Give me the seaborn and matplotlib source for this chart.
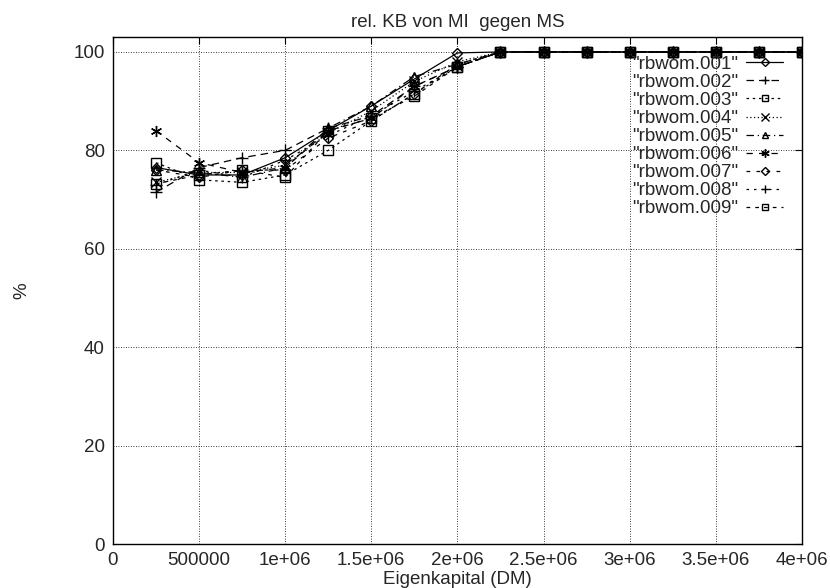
import numpy as np
import pandas as pd
import seaborn as sns
import matplotlib
matplotlib.use("Agg")
import matplotlib.pyplot as plt

x_vals = [250000, 500000, 750000, 1000000, 1250000, 1500000, 1750000, 2000000,
          2250000, 2500000, 2750000, 3000000, 3250000, 3500000, 3750000, 4000000]
tail = [100.0] * 8

rbwom_001 = [76.5, 75.0, 75.0, 78.5, 84.0, 89.0, 94.5, 99.8] + tail
rbwom_002 = [71.5, 76.5, 78.5, 80.0, 84.5, 87.0, 93.0, 97.0] + tail
rbwom_003 = [77.5, 74.0, 73.5, 75.0, 80.0, 86.0, 91.5, 97.0] + tail
rbwom_004 = [73.5, 75.5, 75.5, 77.0, 83.5, 88.0, 94.0, 98.0] + tail
rbwom_005 = [76.0, 75.5, 74.5, 76.5, 84.5, 89.0, 95.0, 97.5] + tail
rbwom_006 = [84.0, 77.5, 75.5, 76.5, 84.0, 86.5, 93.0, 97.0] + tail
rbwom_007 = [76.0, 74.5, 76.0, 76.0, 82.5, 86.0, 91.5, 97.5] + tail
rbwom_008 = [73.0, 76.0, 74.5, 78.0, 83.0, 87.0, 92.0, 97.0] + tail
rbwom_009 = [73.2, 75.0, 76.0, 74.5, 84.0, 86.5, 91.0, 97.0] + tail

series = {
    '"rbwom.001"': rbwom_001,
    '"rbwom.002"': rbwom_002,
    '"rbwom.003"': rbwom_003,
    '"rbwom.004"': rbwom_004,
    '"rbwom.005"': rbwom_005,
    '"rbwom.006"': rbwom_006,
    '"rbwom.007"': rbwom_007,
    '"rbwom.008"': rbwom_008,
    '"rbwom.009"': rbwom_009,
}

# gnuplot-like point types and dash patterns
styles = [
    ("D", "-"),
    ("+", (0, (6, 4))),
    ("s", (0, (2, 3))),
    ("x", (0, (1, 2))),
    ("^", (0, (6, 3, 1, 3))),
    ((6, 2, 0), (0, (5, 5))),
    ("D", (0, (3, 5))),
    ("+", (0, (2, 4))),
    ("s", (0, (3, 4))),
]
sizes = {"D": 5, "s": 6.5, "^": 6.5, "+": 8, "x": 7}

sns.set_style("white")
plt.rcParams['font.family'] = ['Liberation Sans', 'DejaVu Sans']
plt.rcParams['font.size'] = 13.5

fig = plt.figure(figsize=(8.3, 5.88), dpi=100)
ax = fig.add_axes([0.1361, 0.0748, 0.830, 0.862])

for (name, vals), (mk, ls) in zip(series.items(), styles):
    df = pd.DataFrame({"x": x_vals, "y": vals})
    sns.lineplot(data=df, x="x", y="y", ax=ax, color="black", linewidth=0.9,
                 linestyle=ls, marker=mk,
                 markersize=sizes.get(mk, 8) if isinstance(mk, str) else 8,
                 markerfacecolor="none", markeredgecolor="black",
                 markeredgewidth=1.0, label=name)

ax.set_xlim(0, 4000000)
ax.set_ylim(0, 103)
ax.set_xticks(np.arange(0, 4000001, 500000))
ax.set_xticklabels(["0", "500000", "1e+06", "1.5e+06", "2e+06", "2.5e+06",
                    "3e+06", "3.5e+06", "4e+06"])
ax.set_yticks(np.arange(0, 101, 20))
ax.grid(True, color="black", linestyle=(0, (1, 2)), linewidth=0.6)
ax.tick_params(direction="in", top=True, right=True, length=5, color="black",
               labelsize=13.5, pad=6)
for sp in ax.spines.values():
    sp.set_color("black")
    sp.set_linewidth(1.0)

ax.set_title("rel. KB von MI  gegen MS", fontsize=13.5, pad=7)
ax.set_xlabel("Eigenkapital (DM)", fontsize=13.5, labelpad=1)
ax.set_ylabel("%", fontsize=13.5, labelpad=31, rotation=90)

leg = ax.legend(loc="upper right", bbox_to_anchor=(0.984, 0.978), frameon=False,
                markerfirst=False, fontsize=13.5, handlelength=2.0,
                labelspacing=0.05, borderaxespad=0.0, handletextpad=0.4,
                markerscale=0.75)

fig.savefig("out.png", dpi=100)
